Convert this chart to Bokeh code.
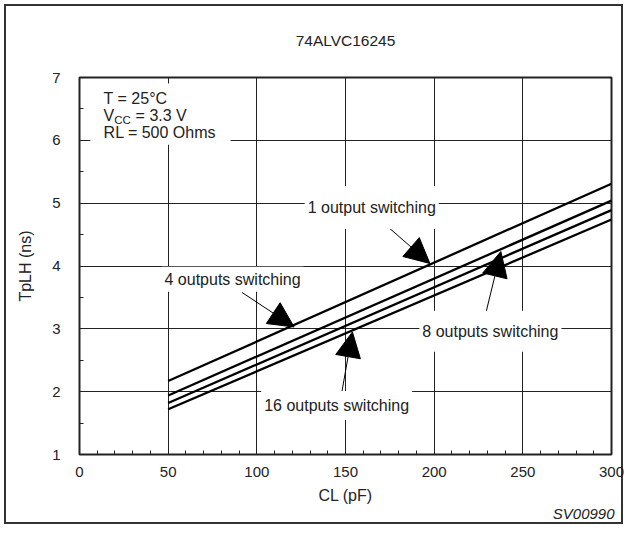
from bokeh.plotting import figure
from bokeh.models import (Range1d, FixedTicker, Label, Arrow, NormalHead,
                          BoxAnnotation, Title)
from bokeh.embed import file_html
from bokeh.resources import INLINE

# ---- data ----
cl = [50, 300]                      # CL (pF)
tplh_1 = [2.17, 5.31]               # 1 output switching
tplh_4 = [1.94, 5.04]               # 4 outputs switching
tplh_8 = [1.82, 4.89]               # 8 outputs switching
tplh_16 = [1.72, 4.74]              # 16 outputs switching
x_ticks = [0, 50, 100, 150, 200, 250, 300]
y_ticks = [1, 2, 3, 4, 5, 6, 7]

FONT = "Liberation Sans"
INK = "#222222"

p = figure(width=627, height=528, output_backend="svg", toolbar_location=None,
           x_range=Range1d(0, 300), y_range=Range1d(1, 7),
           min_border_left=79, min_border_right=16,
           min_border_top=74, min_border_bottom=74)
p.background_fill_color = "white"
p.border_fill_alpha = 0
p.outline_line_color = INK
p.outline_line_width = 2
p.styles = {"box-shadow": "inset 0 0 0 4px white, inset 0 0 0 6px #333333",
            "background-color": "white"}

# title
p.title.text = "74ALVC16245"
p.title.align = "center"
p.title.text_font = FONT
p.title.text_font_size = "15.5px"
p.title.text_font_style = "normal"
p.title.text_color = INK
p.title.standoff = 58

# axes
p.xaxis.ticker = FixedTicker(ticks=x_ticks,
                             minor_ticks=[v for v in range(0, 301, 10)])
p.yaxis.ticker = FixedTicker(ticks=y_ticks,
                             minor_ticks=[1 + 0.5 * i for i in range(13)])
for ax in (p.xaxis[0], p.yaxis[0]):
    ax.axis_line_color = INK
    ax.major_tick_in = 0
    ax.major_tick_out = 0
    ax.minor_tick_in = 4
    ax.minor_tick_out = 0
    ax.minor_tick_line_color = INK
    ax.major_label_text_font = FONT
    ax.major_label_text_font_size = "15px"
    ax.major_label_text_color = INK
    ax.axis_label_text_font = FONT
    ax.axis_label_text_font_size = "16px"
    ax.axis_label_text_font_style = "normal"
    ax.axis_label_text_color = INK
p.xaxis.axis_label = "CL (pF)"
p.yaxis.axis_label = "TpLH (ns)"
p.xaxis.major_label_standoff = 12
p.xaxis.axis_label_standoff = 7
p.yaxis.major_label_standoff = 19
p.yaxis.axis_label_standoff = 15

# figure code at the bottom right
p.add_layout(Title(text="SV00990", align="right", text_font=FONT,
                   text_font_size="15px", text_font_style="italic",
                   text_color=INK, offset=-3, standoff=-8), "below")

p.grid.grid_line_color = INK
p.grid.grid_line_width = 1
p.grid.grid_line_alpha = 1.0

# data lines
for ys in (tplh_1, tplh_4, tplh_8, tplh_16):
    p.line(cl, ys, line_color="black", line_width=2.3)

# condition box (white background covering grid)
p.add_layout(BoxAnnotation(left=6.1, right=85.2, top=6.906, bottom=5.93,
                           fill_color="white", fill_alpha=1.0,
                           line_alpha=0, level="annotation"))

def lab(x, y, text, size="16px", align="left", style="normal", bg=None,
        padding=0, x_offset=0):
    kw = {}
    if bg:
        kw["background_fill_color"] = bg
        kw["background_fill_alpha"] = 1.0
        kw["padding"] = padding
    l = Label(x=x, y=y, text=text, text_font=FONT, text_font_size=size,
              text_color=INK, text_align=align, text_baseline="middle",
              text_font_style=style, x_offset=x_offset, **kw)
    p.add_layout(l)
    return l

# conditions text
lab(13.6, 6.665, "T = 25°C")
lab(13.6, 6.392, "V")
lab(13.6, 6.33, "CC", size="11.5px", x_offset=10.7)
lab(13.6, 6.392, "= 3.3 V", x_offset=32)
lab(13.6, 6.12, "RL = 500 Ohms")

# arrows
for (xs, ys, xe, ye) in [(171.6, 4.68, 197.6, 4.04),
                         (91.6, 3.58, 121.0, 3.03),
                         (228.7, 3.20, 237.6, 4.23),
                         (147.8, 1.97, 153.9, 2.95)]:
    p.add_layout(Arrow(x_start=xs, y_start=ys, x_end=xe, y_end=ye,
                       line_color="black", line_width=1,
                       end=NormalHead(size=25, fill_color="black",
                                      line_color="black", line_width=1)))

# curve labels
lab(164.8, 4.93, "1 output switching", align="center", bg="white",
    padding=(3, 13))
lab(86.3, 3.79, "4 outputs switching", align="center", bg="white",
    padding=(3, 4))
lab(231.7, 2.96, "8 outputs switching", align="center", bg="white",
    padding=(3, 12))
lab(145.0, 1.78, "16 outputs switching", align="center", bg="white",
    padding=(3, 6))

open("out.html", "w").write(file_html(p, INLINE))
